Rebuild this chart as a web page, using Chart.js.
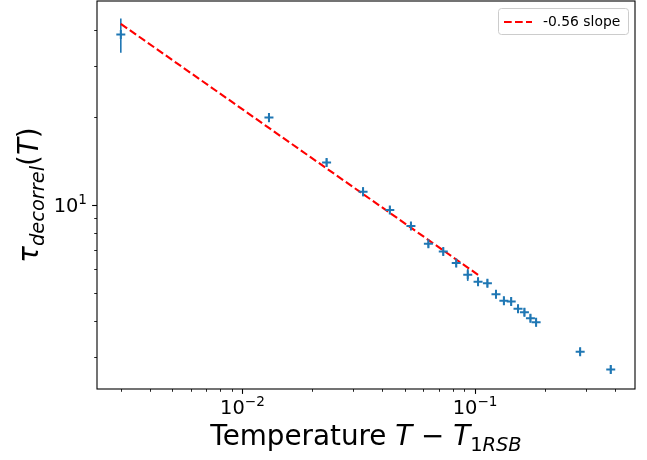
<!DOCTYPE html>
<html>
<head>
<meta charset="utf-8">
<script src="https://cdn.jsdelivr.net/npm/chart.js@4.4.0/dist/chart.umd.min.js"></script>
<style>
body{margin:0;background:#fff}
#wrap{width:647px;height:460px}
</style>
</head>
<body>
<div id="wrap"><canvas id="myChart" width="647" height="460"></canvas></div>
<script>
// T - T_1RSB values (x) and decorrelation time (y)
const tempX=[0.003,0.013,0.023,0.033,0.043,0.053,0.063,0.073,0.083,0.093,0.103,0.113,0.123,0.133,0.143,0.153,0.163,0.173,0.183,0.283,0.383]
const tauY=[38.5,19.95,14.0,11.1,9.6,8.47,7.35,6.91,6.31,5.75,5.44,5.38,4.93,4.68,4.66,4.40,4.28,4.08,3.95,3.13,2.72]
const tauErr=[5.2,0.7,0.45,0.4,0.3,0.25,0.22,0.2,0.2,0.27,0.18,0.17,0.15,0.15,0.15,0.14,0.14,0.13,0.13,0.1,0.09]
// fitted power law, -0.56 slope
const fitX=[0.003,0.103]
const fitY=[41.9,5.75]
const fitLabel='-0.56 slope'
// ticks (majors carry a 10^n label)
const xTicks=[0.003,0.004,0.005,0.006,0.007,0.008,0.009,0.01,0.02,0.03,0.04,0.05,0.06,0.07,0.08,0.09,0.1,0.2,0.3,0.4]
const yTicks=[3,4,5,6,7,8,9,10,20,30,40]
const xMajor=[0.01,0.1]
const xMajorExp=['−2','−1']
const yMajor=[10]
const yMajorExp=['1']

const FONT='"DejaVu Sans"'
const blue='#1f77b4'
const tickFont='19.4px '+FONT
const supFont='13.6px '+FONT

function drawRich(ctx,parts,x,y,align){
  let w=0
  parts.forEach(p=>{ctx.font=p.font;p.w=ctx.measureText(p.text).width;w+=p.w})
  let cx=align==='right'?x-w:x-w/2
  parts.forEach(p=>{ctx.font=p.font;ctx.fillText(p.text,cx,y+(p.dy||0));cx+=p.w})
}

const extras={
  id:'extras',
  beforeDatasetsDraw(chart){
    const ctx=chart.ctx,xs=chart.scales.x,ys=chart.scales.y
    ctx.save()
    ctx.strokeStyle=blue
    ctx.lineWidth=1.6
    for(let i=0;i<tempX.length;i++){
      const px=xs.getPixelForValue(tempX[i])
      ctx.beginPath()
      ctx.moveTo(px,ys.getPixelForValue(tauY[i]-tauErr[i]))
      ctx.lineTo(px,ys.getPixelForValue(tauY[i]+tauErr[i]))
      ctx.stroke()
    }
    ctx.restore()
  },
  afterDraw(chart){
    const ctx=chart.ctx,a=chart.chartArea,xs=chart.scales.x,ys=chart.scales.y
    ctx.save()
    // tick marks
    ctx.strokeStyle='#000'
    xTicks.forEach(v=>{
      const major=xMajor.includes(v)
      const px=Math.round(xs.getPixelForValue(v))+0.5
      ctx.lineWidth=major?1.1:0.85
      ctx.beginPath();ctx.moveTo(px,a.bottom);ctx.lineTo(px,a.bottom+(major?4.9:2.8));ctx.stroke()
    })
    yTicks.forEach(v=>{
      const major=yMajor.includes(v)
      const py=Math.round(ys.getPixelForValue(v))+0.5
      ctx.lineWidth=major?1.1:0.85
      ctx.beginPath();ctx.moveTo(a.left,py);ctx.lineTo(a.left-(major?4.9:2.8),py);ctx.stroke()
    })
    // frame
    ctx.lineWidth=1.1
    ctx.strokeRect(a.left,a.top,a.right-a.left,a.bottom-a.top)

    // tick labels
    ctx.fillStyle='#000'
    ctx.textBaseline='alphabetic'
    ctx.textAlign='left'
    xMajor.forEach((v,i)=>{
      drawRich(ctx,[{text:'10',font:tickFont},{text:xMajorExp[i],font:supFont,dy:-8}],
        xs.getPixelForValue(v),a.bottom+25)
    })
    yMajor.forEach((v,i)=>{
      drawRich(ctx,[{text:'10',font:tickFont},{text:yMajorExp[i],font:supFont,dy:-8}],
        a.left-10,ys.getPixelForValue(v)+7,'right')
    })

    // legend
    const lx=498,ly=8,lw=130,lh=26
    ctx.fillStyle='rgba(255,255,255,0.8)'
    ctx.strokeStyle='#cccccc'
    ctx.lineWidth=1
    ctx.beginPath()
    ctx.roundRect(lx+0.5,ly+0.5,lw,lh,3)
    ctx.fill();ctx.stroke()
    ctx.strokeStyle='#ff0000'
    ctx.lineWidth=2.1
    ctx.setLineDash([7.7,3.3])
    ctx.beginPath();ctx.moveTo(504,ly+lh/2+1);ctx.lineTo(532,ly+lh/2+1);ctx.stroke()
    ctx.setLineDash([])
    ctx.fillStyle='#000'
    ctx.font='13.9px '+FONT
    ctx.textBaseline='middle'
    ctx.fillText(fitLabel,543,ly+lh/2+1)

    // axis titles
    ctx.textBaseline='alphabetic'
    const big='27.8px '+FONT,bigI='italic 27.8px '+FONT,sm='19.4px '+FONT,smI='italic 19.4px '+FONT
    drawRich(ctx,[
      {text:'Temperature ',font:big},
      {text:'T',font:bigI},
      {text:' − ',font:big},
      {text:'T',font:bigI},
      {text:'1',font:sm,dy:5.5},
      {text:'RSB',font:smI,dy:5.5}
    ],(a.left+a.right)/2,445)
    ctx.translate(38,(a.top+a.bottom)/2)
    ctx.rotate(-Math.PI/2)
    drawRich(ctx,[
      {text:'τ',font:bigI},
      {text:'decorrel',font:smI,dy:5.5},
      {text:'(',font:big},
      {text:'T',font:bigI},
      {text:')',font:big}
    ],0,0)
    ctx.restore()
  }
}

function fixBox(size){
  return s=>{
    if(s.isHorizontal()) s.height=size; else s.width=size
    s.paddingTop=0;s.paddingBottom=0;s.paddingLeft=0;s.paddingRight=0
  }
}

const ctx=document.getElementById('myChart')
new Chart(ctx,{
  type:'scatter',
  data:{
    datasets:[{
      label:'data',
      data:tempX.map((x,i)=>({x:x,y:tauY[i]})),
      pointStyle:'cross',
      pointRadius:4.5,
      borderWidth:2,
      borderColor:blue,
      backgroundColor:blue
    },{
      label:fitLabel,
      type:'line',
      data:fitX.map((x,i)=>({x:x,y:fitY[i]})),
      borderColor:'#ff0000',
      borderWidth:2.1,
      borderDash:[7.7,3.3],
      pointRadius:0,
      fill:false
    }]
  },
  options:{
    responsive:false,
    animation:false,
    devicePixelRatio:1,
    layout:{autoPadding:false,padding:{left:0,right:12,top:1,bottom:0}},
    plugins:{legend:{display:false},tooltip:{enabled:false}},
    scales:{
      x:{
        type:'logarithmic',
        min:0.00237,
        max:0.487,
        title:{display:false,text:'Temperature T − T1RSB'},
        grid:{display:false},
        border:{display:false},
        ticks:{display:false},
        afterFit:fixBox(71)
      },
      y:{
        type:'logarithmic',
        min:2.33,
        max:50.2,
        title:{display:false,text:'τdecorrel(T)'},
        grid:{display:false},
        border:{display:false},
        ticks:{display:false},
        afterFit:fixBox(97)
      }
    }
  },
  plugins:[extras]
})
</script>
</body>
</html>
